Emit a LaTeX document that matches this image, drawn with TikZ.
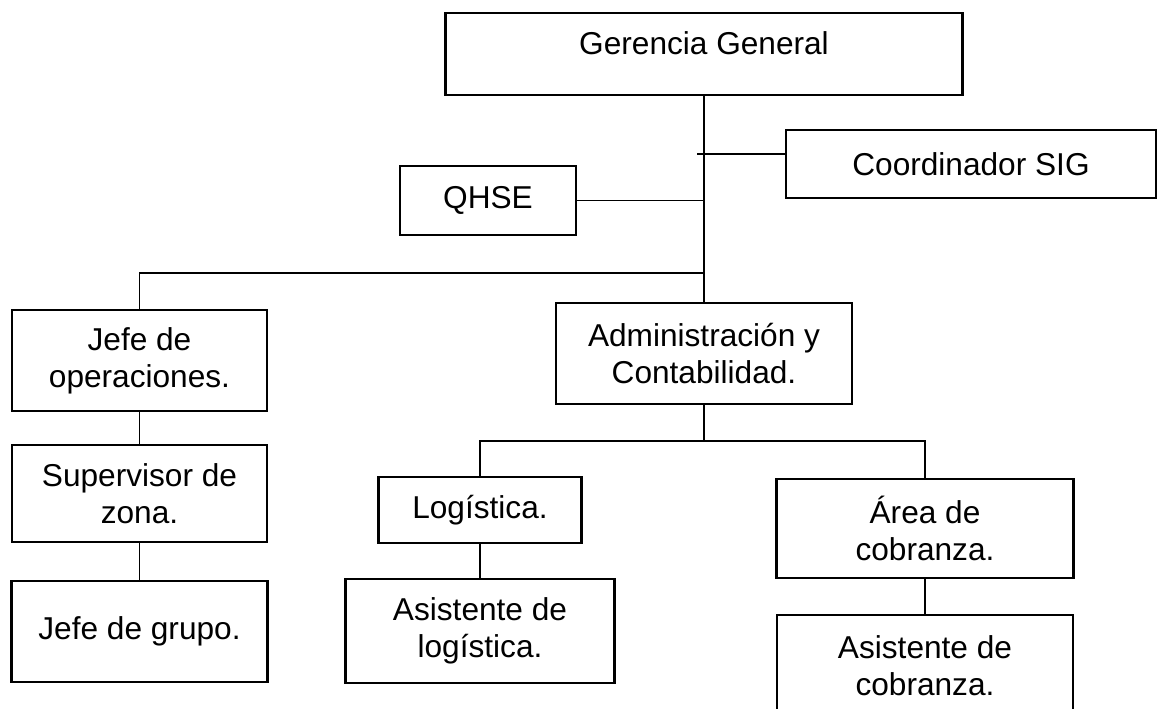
\documentclass[tikz,border=0pt]{standalone}
\usepackage{fontspec}
\setmainfont{Liberation Sans}
\begin{document}
\begin{tikzpicture}[x=0.02cm,y=-0.02cm,
  box/.style={draw,line width=1.4pt,align=center,inner sep=0pt,font=\fontsize{18}{21}\selectfont},
  link/.style={line width=0.7pt}]

  \useasboundingbox (0,0) rectangle (1159,708);

  \node[box,minimum width=10.34cm,minimum height=1.64cm,text depth=12.5pt] (gg) at (704,54) {Gerencia General};
  \node[box,minimum width=7.4cm,minimum height=1.36cm] (sig) at (971,164) {Coordinador SIG};
  \node[box,minimum width=3.52cm,minimum height=1.38cm] (qhse) at (488,200.5) {QHSE};
  \node[box,minimum width=5.1cm,minimum height=2.02cm] (ops) at (139.5,360.5) {Jefe de\\operaciones.};
  \node[box,minimum width=5.92cm,minimum height=2.02cm] (adm) at (704,353.5) {Administración y\\Contabilidad.};
  \node[box,minimum width=5.1cm,minimum height=1.94cm] (sup) at (139.5,493.5) {Supervisor de\\zona.};
  \node[box,minimum width=5.12cm,minimum height=2.02cm] (grp) at (139.5,631.5) {Jefe de grupo.};
  \node[box,minimum width=4.06cm,minimum height=1.32cm] (log) at (480,510) {Logística.};
  \node[box,minimum width=5.38cm,minimum height=2.08cm] (alog) at (480,631) {Asistente de\\logística.};
  \node[box,minimum width=5.94cm,minimum height=1.98cm] (cob) at (925,528.5) {Área de\\cobranza.};
  \node[box,minimum width=5.92cm,minimum height=2.02cm] (acob) at (925,665.5) {Asistente de\\cobranza.};

  \coordinate (sigtap) at (697,154);
  \coordinate (opstap) at (704,273);
  \coordinate (admtap) at (704,441);

  \draw[link] (gg.south) -- (adm.north);
  \draw[link] (sigtap) -- (sigtap -| sig.west);
  \draw[link] (qhse.east) -- (qhse.east -| gg.south);
  \draw[link] (opstap) -| (ops.north);
  \draw[link] (ops.south) -- (sup.north);
  \draw[link] (sup.south) -- (grp.north);
  \draw[link] (adm.south) -- (admtap);
  \draw[link] (log.north) |- (admtap) -| (cob.north);
  \draw[link] (log.south) -- (alog.north);
  \draw[link] (cob.south) -- (acob.north);

\end{tikzpicture}
\end{document}
